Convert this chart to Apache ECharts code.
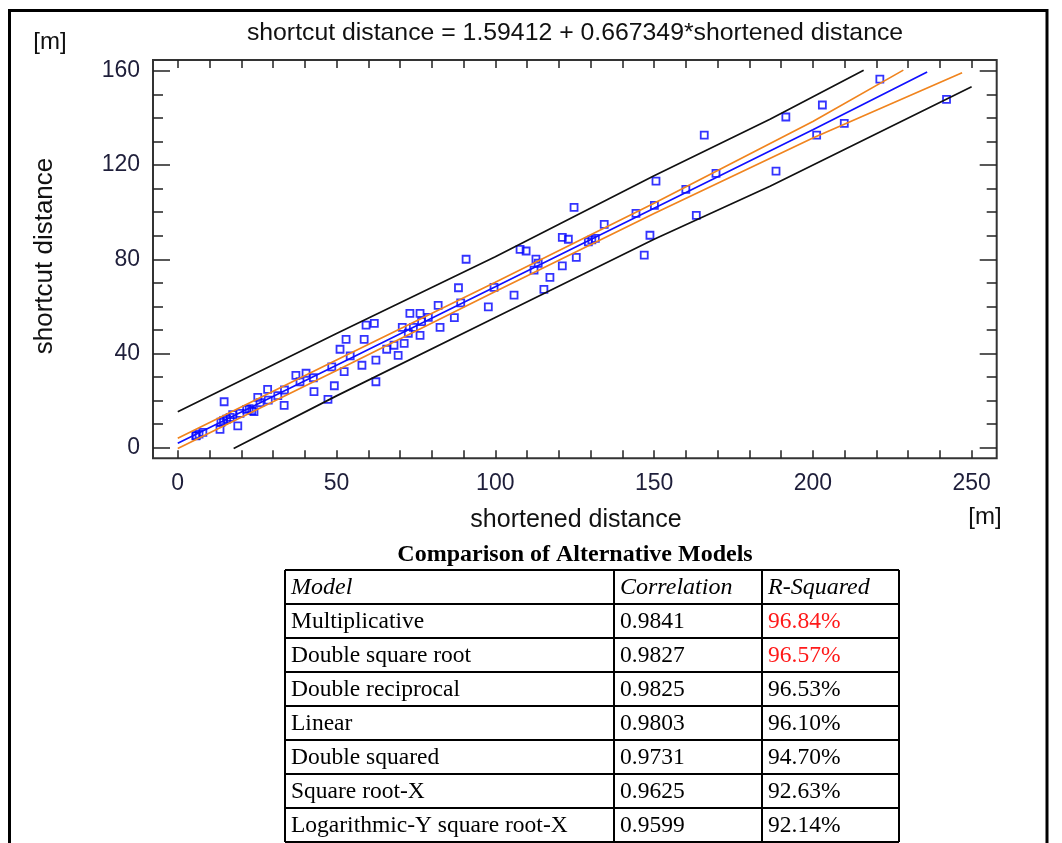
<!DOCTYPE html>
<html>
<head>
<meta charset="utf-8">
<script src="https://cdn.jsdelivr.net/npm/echarts@6/dist/echarts.min.js"></script>
<style>
  html, body { margin: 0; padding: 0; background: #fff; }
  #chart { width: 1062px; height: 843px; }
</style>
</head>
<body>
<div id="chart"></div>
<script>
// observed points (shortened distance, shortcut distance)
var pointsX = [5.7, 5.8, 6.7, 7.9, 13.3, 13.6, 14.4, 15.4, 14.6, 16.5, 17.3, 18.9, 19.6, 21.7, 22.5, 23.3, 24.0,
    25.2, 25.9, 28.3, 28.5, 31.5, 33.5, 33.6, 37.2, 40.4, 38.5, 42.7, 42.9, 47.3, 48.5, 49.3, 51.1, 53.0, 52.4,
    54.3, 58.0, 58.7, 59.3, 61.9, 62.4, 62.4, 65.8, 68.1, 69.4, 70.7, 71.3, 72.6, 73.1, 76.3, 76.3, 74.2, 76.8,
    78.9, 82.6, 82.0, 87.1, 88.4, 89.1, 90.8, 97.8, 99.6, 105.9, 107.8, 109.7, 112.8, 113.5, 112.2, 117.2, 115.3,
    121.1, 123.0, 125.5, 121.1, 124.8, 129.3, 130.4, 131.5, 134.3, 144.3, 146.9, 148.7, 150.1, 150.6, 160.0,
    163.3, 165.8, 169.5, 188.4, 191.5, 201.2, 203.0, 209.9, 221.1, 242.1];
var pointsY = [5.0, 5.1, 5.8, 6.5, 7.8, 10.8, 11.5, 12.1, 19.5, 12.9, 14.0, 9.3, 14.6, 16.3, 16.6, 15.7, 15.3,
    21.4, 19.1, 24.8, 20.2, 22.1, 18.0, 24.5, 30.7, 31.6, 28.0, 29.7, 23.8, 20.5, 34.3, 26.3, 41.8, 46.0, 32.3,
    39.0, 35.0, 46.0, 52.0, 52.8, 28.0, 37.2, 41.8, 43.5, 39.2, 51.1, 44.3, 48.6, 57.0, 57.0, 47.7, 51.1, 53.5,
    55.3, 51.1, 60.4, 55.2, 67.9, 61.5, 80.0, 59.8, 68.1, 64.8, 84.2, 83.5, 80.1, 78.3, 75.4, 72.3, 67.2,
    89.3, 88.5, 80.8, 77.2, 102.0, 87.4, 88.2, 88.9, 94.8, 99.5, 81.8, 90.2, 102.9, 113.2, 109.7,
    98.6, 132.7, 116.5, 117.4, 140.4, 132.7, 145.5, 137.7, 156.5, 147.9];

// fitted line and bands
var fitX = [0, 50, 100, 150, 200, 236];
var fitY = [1.9, 35.0, 68.3, 101.7, 135.0, 159.5];
var confUpX = [0, 50, 100, 150, 200, 228.5];
var confUpY = [4.0, 37.2, 70.2, 103.8, 138.5, 160.3];
var confLoX = [0, 50, 100, 150, 200, 247];
var confLoY = [-0.3, 32.8, 66.3, 99.4, 131.5, 159.2];
var predUpX = [0, 50, 100, 150, 186.5, 216];
var predUpY = [15.3, 48.5, 81.1, 115.5, 139.4, 160.3];
var predLoX = [17.6, 50, 100, 150, 186.5, 250];
var predLoY = [-0.3, 22.0, 55.3, 88.5, 111.0, 153.2];

// axis ticks
var xLabels = [0, 50, 100, 150, 200, 250];
var xTicks = [0, 10, 20, 30, 40, 50, 60, 70, 80, 90, 100, 110, 120, 130, 140, 150, 160, 170, 180, 190, 200, 210, 220, 230, 240, 250];
var yLabels = [0, 40, 80, 120, 160];
var yMinor = [0, 10, 20, 30, 40, 50, 60, 70, 80, 90, 100, 110, 120, 130, 140, 150, 160];

// comparison table
var tableHead = ['Model', 'Correlation', 'R-Squared'];
var models = ['Multiplicative', 'Double square root', 'Double reciprocal', 'Linear', 'Double squared', 'Square root-X', 'Logarithmic-Y square root-X'];
var correlations = ['0.9841', '0.9827', '0.9825', '0.9803', '0.9731', '0.9625', '0.9599'];
var rSquared = ['96.84%', '96.57%', '96.53%', '96.10%', '94.70%', '92.63%', '92.14%'];
var redRows = 2;

function pairs(xs, ys) {
    return xs.map(function (x, i) { return [x, ys[i]]; });
}

var chart = echarts.init(document.getElementById('chart'));

var sans = 'Liberation Sans, Arial, sans-serif';
var serif = 'Liberation Serif, Times New Roman, serif';
var tickColor = '#222';

function xAxisOpt(pos, withLabels) {
    return {
        type: 'value', min: -7.8, max: 257.9, position: pos,
        axisLine: {show: false, onZero: false}, splitLine: {show: false},
        axisTick: {show: true, inside: true, length: 8, customValues: xTicks, lineStyle: {color: tickColor, width: 1.5}},
        axisLabel: {show: withLabels, customValues: xLabels, fontSize: 23, fontFamily: sans, color: '#1e1e3a', margin: 14}
    };
}
function yAxisOpt(pos, ticks, len, withLabels) {
    return {
        type: 'value', min: -4.5, max: 164.6, position: pos, offset: 0,
        axisLine: {show: false, onZero: false}, splitLine: {show: false},
        axisTick: {show: true, inside: true, length: len, customValues: ticks, lineStyle: {color: tickColor, width: 1.5}},
        axisLabel: {show: withLabels, customValues: yLabels, fontSize: 23, fontFamily: sans, color: '#1e1e3a', margin: 13}
    };
}

// table graphics
var tLeft = 285, tRight = 899, colX = [285, 614, 762], tTop = 570, rowH = 34;
var tableEls = [];
var nRows = models.length + 1;
for (var r = 0; r <= nRows; r++) {
    tableEls.push({type: 'line', shape: {x1: tLeft, y1: tTop + r * rowH, x2: tRight, y2: tTop + r * rowH},
        style: {stroke: '#000', lineWidth: 2}});
}
[tLeft, colX[1], colX[2], tRight].forEach(function (cx) {
    tableEls.push({type: 'line', shape: {x1: cx, y1: tTop, x2: cx, y2: tTop + nRows * rowH},
        style: {stroke: '#000', lineWidth: 2}});
});
tableHead.forEach(function (h, c) {
    tableEls.push({type: 'text', x: colX[c] + 6, y: tTop + rowH / 2 + 1,
        style: {text: h, font: 'italic 24px ' + serif, fill: '#000', verticalAlign: 'middle'}});
});
models.forEach(function (m, i) {
    var cy = tTop + (i + 1) * rowH + rowH / 2 + 1;
    var cells = [m, correlations[i], rSquared[i]];
    cells.forEach(function (t, c) {
        tableEls.push({type: 'text', x: colX[c] + 6, y: cy,
            style: {text: t, font: '23.5px ' + serif, fill: (c === 2 && i < redRows) ? '#ff1a1a' : '#000', verticalAlign: 'middle'}});
    });
});

var lineBase = {type: 'line', showSymbol: false, symbol: 'none', silent: true, xAxisIndex: 0, yAxisIndex: 0};

chart.setOption({
    animation: false,
    backgroundColor: '#fff',
    grid: {left: 153, top: 60, width: 843.7, height: 398.3, show: true, borderColor: '#333', borderWidth: 2, backgroundColor: '#fff'},
    xAxis: [xAxisOpt('bottom', true), xAxisOpt('top', false)],
    yAxis: [
        yAxisOpt('left', yLabels, 17, true),
        yAxisOpt('left', yMinor, 10, false),
        yAxisOpt('right', yLabels, 17, false),
        yAxisOpt('right', yMinor, 10, false)
    ],
    series: [
        Object.assign({}, lineBase, {data: pairs(predUpX, predUpY), lineStyle: {color: '#111', width: 1.7}}),
        Object.assign({}, lineBase, {data: pairs(predLoX, predLoY), lineStyle: {color: '#111', width: 1.7}}),
        Object.assign({}, lineBase, {data: pairs(confUpX, confUpY), lineStyle: {color: '#f0841e', width: 1.7}}),
        Object.assign({}, lineBase, {data: pairs(confLoX, confLoY), lineStyle: {color: '#f0841e', width: 1.7}}),
        Object.assign({}, lineBase, {data: pairs(fitX, fitY), lineStyle: {color: '#1010ff', width: 1.7}}),
        {
            type: 'scatter', xAxisIndex: 0, yAxisIndex: 0, symbol: 'rect', symbolSize: 7,
            itemStyle: {color: 'rgba(0,0,0,0)', borderColor: '#0000ff', borderWidth: 1.8},
            data: pairs(pointsX, pointsY)
        }
    ],
    graphic: [
        {type: 'rect', shape: {x: 9.5, y: 10.5, width: 1037.5, height: 900}, style: {fill: 'none', stroke: '#000', lineWidth: 3}, z: 100},
        {type: 'text', x: 575, y: 33, style: {text: 'shortcut distance = 1.59412 + 0.667349*shortened distance', font: '24.8px ' + sans, fill: '#111', align: 'center', verticalAlign: 'middle'}},
        {type: 'text', x: 50, y: 42, style: {text: '[m]', font: '24px ' + sans, fill: '#111', align: 'center', verticalAlign: 'middle'}},
        {type: 'text', x: 985, y: 517, style: {text: '[m]', font: '24px ' + sans, fill: '#111', align: 'center', verticalAlign: 'middle'}},
        {type: 'text', x: 576, y: 520, style: {text: 'shortened distance', font: '25px ' + sans, fill: '#111', align: 'center', verticalAlign: 'middle'}},
        {type: 'text', x: 45, y: 256, rotation: Math.PI / 2, style: {text: 'shortcut distance', font: '26px ' + sans, fill: '#111', align: 'center', verticalAlign: 'middle'}},
        {type: 'text', x: 575, y: 555, style: {text: 'Comparison of Alternative Models', font: 'bold 24px ' + serif, fill: '#000', align: 'center', verticalAlign: 'middle'}},
        {type: 'group', children: tableEls}
    ]
});
</script>
</body>
</html>
